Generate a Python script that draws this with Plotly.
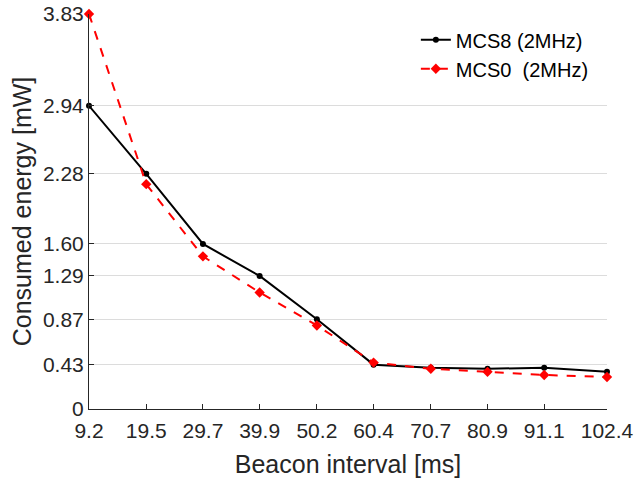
import plotly.graph_objects as go

beacon = [9.2, 19.5, 29.7, 39.9, 50.2, 60.4, 70.7, 80.9, 91.1, 102.4]
mcs8 = [2.94, 2.28, 1.60, 1.29, 0.87, 0.43, 0.40, 0.39, 0.40, 0.36]
mcs0 = [3.83, 2.18, 1.48, 1.13, 0.81, 0.45, 0.39, 0.36, 0.33, 0.31]
ytick_vals = [0, 0.43, 0.87, 1.29, 1.60, 2.28, 2.94, 3.83]
ytick_text = ["0", "0.43", "0.87", "1.29", "1.60", "2.28", "2.94", "3.83"]
xtick_text = ["9.2", "19.5", "29.7", "39.9", "50.2", "60.4", "70.7", "80.9", "91.1", "102.4"]

fig = go.Figure()
fig.add_trace(go.Scatter(
    x=beacon, y=mcs8, mode="lines+markers", name="MCS8 (2MHz)",
    line=dict(color="black", width=2),
    marker=dict(symbol="circle", size=6, color="black"),
    cliponaxis=False,
))
fig.add_trace(go.Scatter(
    x=beacon, y=mcs0, mode="lines+markers", name="MCS0  (2MHz)",
    line=dict(color="#ff0000", width=2, dash="dash"),
    marker=dict(symbol="diamond", size=8, color="#ff0000"),
    cliponaxis=False,
))

axis_color = "#262626"
fig.update_layout(
    width=638, height=481,
    margin=dict(l=89, r=31, t=14, b=72),
    paper_bgcolor="white", plot_bgcolor="white",
    font=dict(family="Liberation Sans, Arial, sans-serif", size=21, color=axis_color),
    showlegend=True,
    legend=dict(x=0.631, y=0.984, xanchor="left", yanchor="top",
                bgcolor="rgba(0,0,0,0)", font=dict(size=20, color="black"),
                itemwidth=30, tracegroupgap=0),
    xaxis=dict(
        range=[9.2, 102.4], tickmode="array", tickvals=beacon, ticktext=xtick_text,
        showline=True, linecolor=axis_color, linewidth=1,
        ticks="inside", ticklen=5, tickcolor=axis_color, ticklabelstandoff=3,
        showgrid=False, zeroline=False, automargin=False,
        title=dict(text="Beacon interval [ms]", font=dict(size=25), standoff=14),
    ),
    yaxis=dict(
        range=[0, 3.83], tickmode="array", tickvals=ytick_vals, ticktext=ytick_text,
        showline=True, linecolor=axis_color, linewidth=1,
        ticks="inside", ticklen=5, tickcolor=axis_color,
        showgrid=True, gridcolor="#dcdcdc", gridwidth=1, zeroline=False, automargin=False,
        title=dict(text="Consumed energy [mW]", font=dict(size=25), standoff=4),
    ),
)
fig.write_html("out.html", config={"displayModeBar": False},
               post_script="document.body.style.margin='0';")
